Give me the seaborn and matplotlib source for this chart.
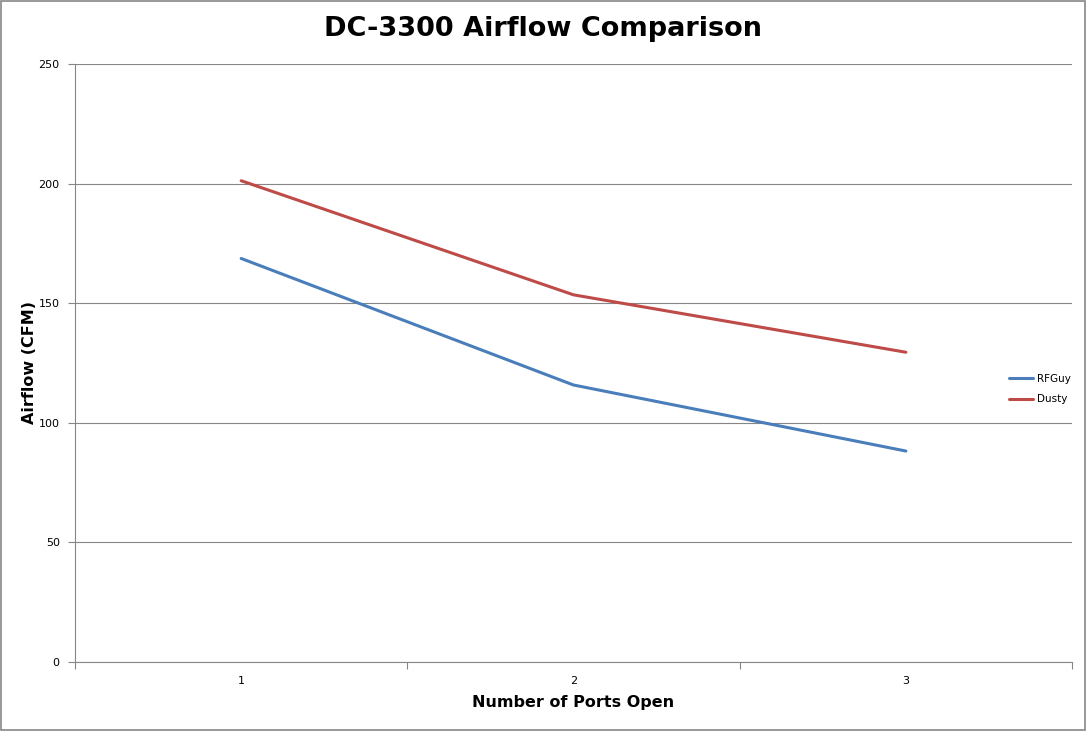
import matplotlib
matplotlib.use("Agg")
import matplotlib.pyplot as plt
import pandas as pd
import seaborn as sns
from matplotlib.patches import Rectangle

ports = [1, 2, 3]
rfguy = [168.7, 115.8, 88.2]
dusty = [201.2, 153.5, 129.5]
series_names = ["RFGuy", "Dusty"]
colors = ["#4A7EBB", "#BE4B48"]

df = pd.DataFrame({
    "ports": ports * 2,
    "cfm": rfguy + dusty,
    "who": ["RFGuy"] * 3 + ["Dusty"] * 3,
})

sns.set_style("white")
plt.rcParams["font.family"] = ["DejaVu Sans"]
plt.rcParams["text.color"] = "black"

fig = plt.figure(figsize=(10.87, 7.31), dpi=100)
ax = fig.add_axes([75 / 1087, 69 / 731, 997 / 1087, 598 / 731])

sns.lineplot(data=df, x="ports", y="cfm", hue="who", hue_order=series_names,
             palette=colors, linewidth=2.2, ax=ax, legend=False)

grid_c = "#868686"
ax.set_xlim(0.5, 3.5)
ax.set_ylim(0, 250)
ax.set_yticks(range(0, 251, 50))
ax.set_xticks(ports)
ax.set_xticks([0.5, 1.5, 2.5, 3.5], minor=True)
ax.tick_params(axis="x", which="major", bottom=True, length=0, labelsize=8, pad=10,
               labelcolor="black")
ax.tick_params(axis="x", which="minor", bottom=True, length=5, width=0.8, color=grid_c,
               direction="out")
ax.tick_params(axis="y", left=True, length=5, width=0.8, color=grid_c, direction="out",
               labelsize=8, pad=6, labelcolor="black")
ax.yaxis.grid(True, color=grid_c, linewidth=0.8)
ax.set_axisbelow(True)
for s in ["top", "right"]:
    ax.spines[s].set_visible(False)
for s in ["left", "bottom"]:
    ax.spines[s].set_color(grid_c)
    ax.spines[s].set_linewidth(0.8)

ax.set_xlabel("Number of Ports Open", fontsize=11.5, fontweight="bold", color="black")
ax.xaxis.set_label_coords(0.5, -(703 - 662) / 598)
ax.set_ylabel("Airflow (CFM)", fontsize=11.5, fontweight="bold", color="black")
ax.yaxis.set_label_coords(-(75 - 30) / 997, 0.5)
ax.xaxis.label.set_va("center")
ax.yaxis.label.set_va("center")
fig.text(0.5, 1 - 29 / 731, "DC-3300 Airflow Comparison", ha="center", va="center",
         fontsize=19.5, fontweight="bold", color="black")

handles = [plt.Line2D([], [], color=c, linewidth=2.2) for c in colors]
fig.legend(handles, series_names, loc="center left", bbox_to_anchor=(1000 / 1087, 1 - 389 / 731),
           frameon=False, fontsize=7.5, handlelength=2.3, handletextpad=0.4, labelspacing=1.0)

fig.patches.append(Rectangle((0.001, 0.001), 0.997, 0.997, transform=fig.transFigure,
                             fill=False, edgecolor=grid_c, linewidth=1.2))

fig.savefig("out.png", dpi=100)
